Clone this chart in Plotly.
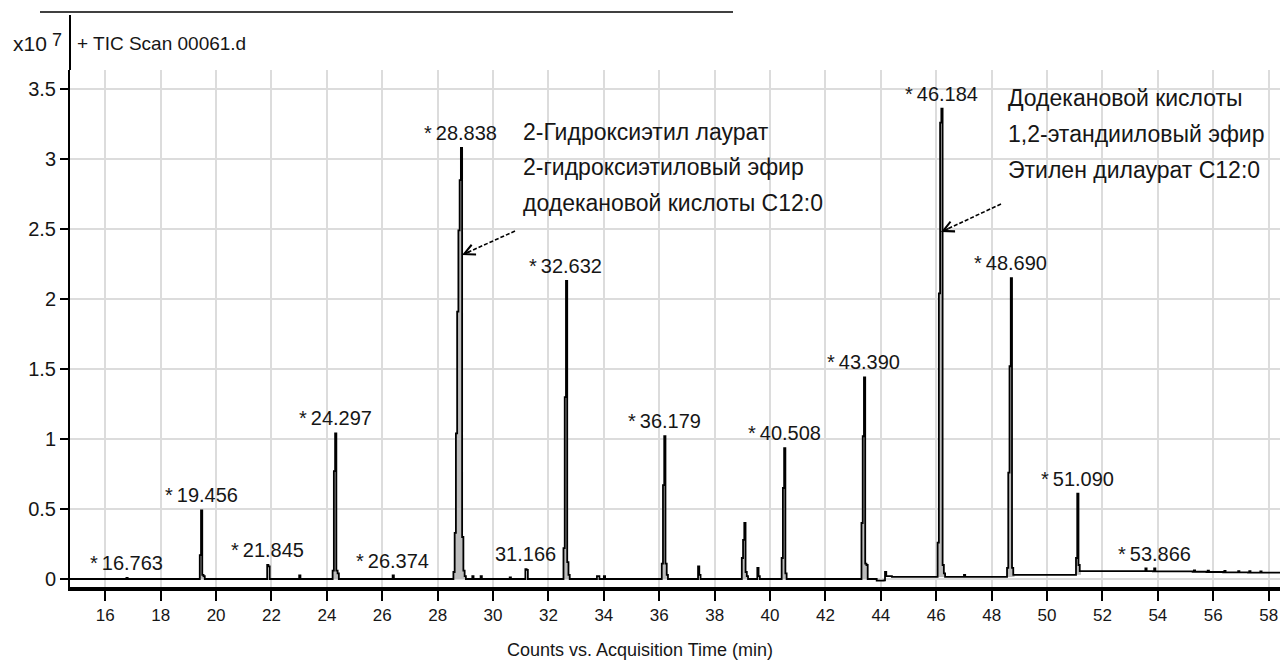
import plotly.graph_objects as go

# ---------------- data (counts in units of 1e7) ----------------
SCAN = 0.045  # min between successive scans

peak_rt = [16.763, 19.456, 21.845, 23.0, 24.297, 26.374, 28.838, 29.25, 29.55, 30.6,
           31.166, 32.632, 33.75, 34.0, 36.179, 37.4, 39.07, 39.54, 40.508, 43.390,
           44.15, 46.184, 47.0, 48.690, 51.090, 53.55, 53.866, 55.3, 55.8, 56.4, 56.9, 57.3, 57.7]
peak_scans = [
    [0.0, 0.008, 0.0],
    [0.0, 0.17, 0.49, 0.03, 0.02, 0.0],
    [0.0, 0.10, 0.09, 0.0],
    [0.0, 0.025, 0.0],
    [0.0, 0.06, 0.77, 1.04, 0.06, 0.04, 0.0],
    [0.0, 0.025, 0.0],
    [0.0, 0.05, 0.33, 1.04, 1.91, 2.49, 2.85, 3.08, 0.30, 0.06, 0.02, 0.0],
    [0.0, 0.02, 0.0],
    [0.0, 0.02, 0.0],
    [0.0, 0.012, 0.0],
    [0.0, 0.07, 0.065, 0.0],
    [0.0, 0.22, 1.30, 2.13, 0.12, 0.03, 0.0],
    [0.0, 0.02, 0.02, 0.0],
    [0.0, 0.02, 0.0],
    [0.0, 0.11, 0.67, 1.02, 0.11, 0.03, 0.0],
    [0.0, 0.09, 0.03, 0.0],
    [0.0, 0.15, 0.28, 0.40, 0.05, 0.02, 0.0],
    [0.0, 0.08, 0.02, 0.0],
    [0.0, 0.15, 0.65, 0.935, 0.04, 0.0],
    [0.0, 0.40, 1.02, 1.44, 0.11, 0.10, 0.0],
    [-0.01, 0.05, 0.02],
    [0.015, 0.26, 2.04, 3.26, 3.36, 0.10, 0.04, 0.015],
    [0.015, 0.03, 0.015],
    [0.015, 0.08, 0.76, 1.52, 2.15, 0.08, 0.03],
    [0.03, 0.15, 0.61, 0.10, 0.057],
    [0.057, 0.075, 0.057],
    [0.055, 0.075, 0.055],
    [0.052, 0.062, 0.052],
    [0.05, 0.06, 0.05],
    [0.048, 0.058, 0.048],
    [0.047, 0.057, 0.047],
    [0.046, 0.056, 0.046],
    [0.045, 0.055, 0.045],
]
baseline_t = [14.72, 43.75, 43.85, 44.0, 44.4, 48.4, 50.8, 51.3, 58.45]
baseline_v = [0.0, 0.0, -0.012, -0.012, 0.015, 0.015, 0.03, 0.057, 0.043]

labeled_rt = [16.763, 19.456, 21.845, 24.297, 26.374, 28.838, 31.166, 32.632,
              36.179, 40.508, 43.390, 46.184, 48.690, 51.090, 53.866]
labeled_star = [True, True, True, True, True, True, False, True,
                True, True, True, True, True, True, True]

x_ticks = list(range(16, 59, 2))
y_ticks = [0, 0.5, 1, 1.5, 2, 2.5, 3, 3.5]
y_ticktext = ["0", "0.5", "1", "1.5", "2", "2.5", "3", "3.5"]

note1 = ["2-Гидроксиэтил лаурат", "2-гидроксиэтиловый эфир", "додекановой кислоты С12:0"]
note2 = ["Додекановой кислоты", "1,2-этандииловый эфир", "Этилен дилаурат С12:0"]
header = "+ TIC Scan 00061.d"
x_title = "Counts vs. Acquisition Time (min)"

# ---------------- layout geometry ----------------
W, H = 1280, 666
L, R, T, B = 70, 0, 70, 79
XR = [14.726, 58.41]
YR = [-0.057, 3.636]
FONT = "Liberation Sans, Arial, sans-serif"
INK = "#161616"

pw, ph = W - L - R, H - T - B


def xp(px):
    return (px - L) / pw


def yp(py):
    return (H - B - py) / ph


# build peak point lists
peak_pts = []
for rt, sc in zip(peak_rt, peak_scans):
    k = sc.index(max(sc))
    ts = [rt + (i - k) * SCAN for i in range(len(sc))]
    peak_pts.append((ts, sc))

all_pts = list(zip(baseline_t, baseline_v))
for ts, sc in peak_pts:
    all_pts += list(zip(ts, sc))
all_pts.sort(key=lambda p: p[0])
tr_x = [p[0] for p in all_pts]
tr_y = [p[1] for p in all_pts]

fig = go.Figure()

# gray integrated areas
for ts, sc in peak_pts:
    if max(sc) > 0.3:
        fig.add_trace(go.Scatter(x=ts + [ts[-1] + SCAN, ts[-1] + SCAN, ts[0]],
                                 y=sc + [sc[-1], sc[0], sc[0]], mode="lines",
                                 fill="toself", fillcolor="#bdbdbd",
                                 line=dict(width=0, shape="hv"), hoverinfo="skip"))

fig.add_trace(go.Scatter(x=tr_x, y=tr_y, mode="lines",
                         line=dict(color="black", width=1.8, shape="hv"),
                         hoverinfo="skip"))

annotations = []
# peak labels
apex = {rt: max(sc) for rt, sc in zip(peak_rt, peak_scans)}
for rt, star in zip(labeled_rt, labeled_star):
    txt = ("*\u2009" if star else "") + f"{rt:.3f}"
    annotations.append(dict(x=rt, y=apex.get(rt, 0.0), xref="x", yref="y", text=txt,
                            showarrow=False, xanchor="center", yanchor="bottom", yshift=2,
                            font=dict(family=FONT, size=20, color=INK)))

# compound notes
for i, s in enumerate(note1):
    annotations.append(dict(x=xp(521), y=yp(131.5 + 35.5 * i), xref="paper", yref="paper",
                            text=s, showarrow=False, xanchor="left", yanchor="middle",
                            font=dict(family=FONT, size=23, color=INK)))
for i, s in enumerate(note2):
    annotations.append(dict(x=xp(1006), y=yp(98 + 36 * i), xref="paper", yref="paper",
                            text=s, showarrow=False, xanchor="left", yanchor="middle",
                            font=dict(family=FONT, size=23, color=INK)))

# header texts
annotations.append(dict(x=xp(11), y=yp(44), xref="paper", yref="paper", text="x10",
                        showarrow=False, xanchor="left", yanchor="middle",
                        font=dict(family=FONT, size=21, color=INK)))
annotations.append(dict(x=xp(50), y=yp(40), xref="paper", yref="paper", text="7",
                        showarrow=False, xanchor="left", yanchor="middle",
                        font=dict(family=FONT, size=18, color=INK)))
annotations.append(dict(x=xp(75), y=yp(43), xref="paper", yref="paper", text=header,
                        showarrow=False, xanchor="left", yanchor="middle",
                        font=dict(family=FONT, size=19, color=INK)))
annotations.append(dict(x=xp(640), y=yp(650), xref="paper", yref="paper", text=x_title,
                        showarrow=False, xanchor="center", yanchor="middle",
                        font=dict(family=FONT, size=18, color=INK)))

shapes = []
# arrows: dashed shaft + open head
for (tail, tip) in [((515, 231), (462, 255)), ((1001, 204), (941, 232))]:
    dx, dy = tail[0] - tip[0], tail[1] - tip[1]
    n = (dx * dx + dy * dy) ** 0.5
    ux, uy = dx / n, dy / n
    shapes.append(dict(type="line", xref="paper", yref="paper",
                       x0=xp(tail[0]), y0=yp(tail[1]), x1=xp(tip[0] + 3 * ux), y1=yp(tip[1] + 3 * uy),
                       line=dict(color="black", width=1.6, dash="4px,2px")))
    annotations.append(dict(x=xp(tip[0]), y=yp(tip[1]), xref="paper", yref="paper", text="",
                            showarrow=True, arrowhead=5, arrowsize=1.4, arrowwidth=1.5,
                            arrowcolor="black", ax=10 * ux, ay=10 * uy, standoff=0))

# y axis extension and top frame line
shapes.append(dict(type="line", xref="paper", yref="paper", x0=0, x1=0, y0=1, y1=yp(15),
                   line=dict(color="black", width=2)))
shapes.append(dict(type="line", xref="paper", yref="paper", x0=xp(40), x1=xp(733),
                   y0=yp(12), y1=yp(12), line=dict(color="black", width=1.5)))

fig.update_layout(
    width=W, height=H, margin=dict(l=L, r=R, t=T, b=B, pad=0),
    plot_bgcolor="white", paper_bgcolor="white", showlegend=False,
    font=dict(family=FONT, size=20, color=INK),
    annotations=annotations, shapes=shapes,
    xaxis=dict(range=XR, tickmode="array", tickvals=x_ticks, ticktext=[str(v) for v in x_ticks],
               showgrid=True, gridcolor="#dcdcdc", gridwidth=2, zeroline=False,
               showline=True, linecolor="black", linewidth=4,
               ticks="outside", ticklen=10, tickwidth=2, tickcolor="black",
               ticklabeloverflow="allow",
               tickfont=dict(family=FONT, size=17, color=INK)),
    yaxis=dict(range=YR, tickmode="array", tickvals=y_ticks, ticktext=y_ticktext,
               showgrid=True, gridcolor="#dcdcdc", gridwidth=2, zeroline=False,
               showline=True, linecolor="black", linewidth=2,
               ticks="outside", ticklen=8, tickwidth=2, tickcolor="black",
               tickfont=dict(family=FONT, size=20, color=INK)),
)

fig.write_html("out.html")
